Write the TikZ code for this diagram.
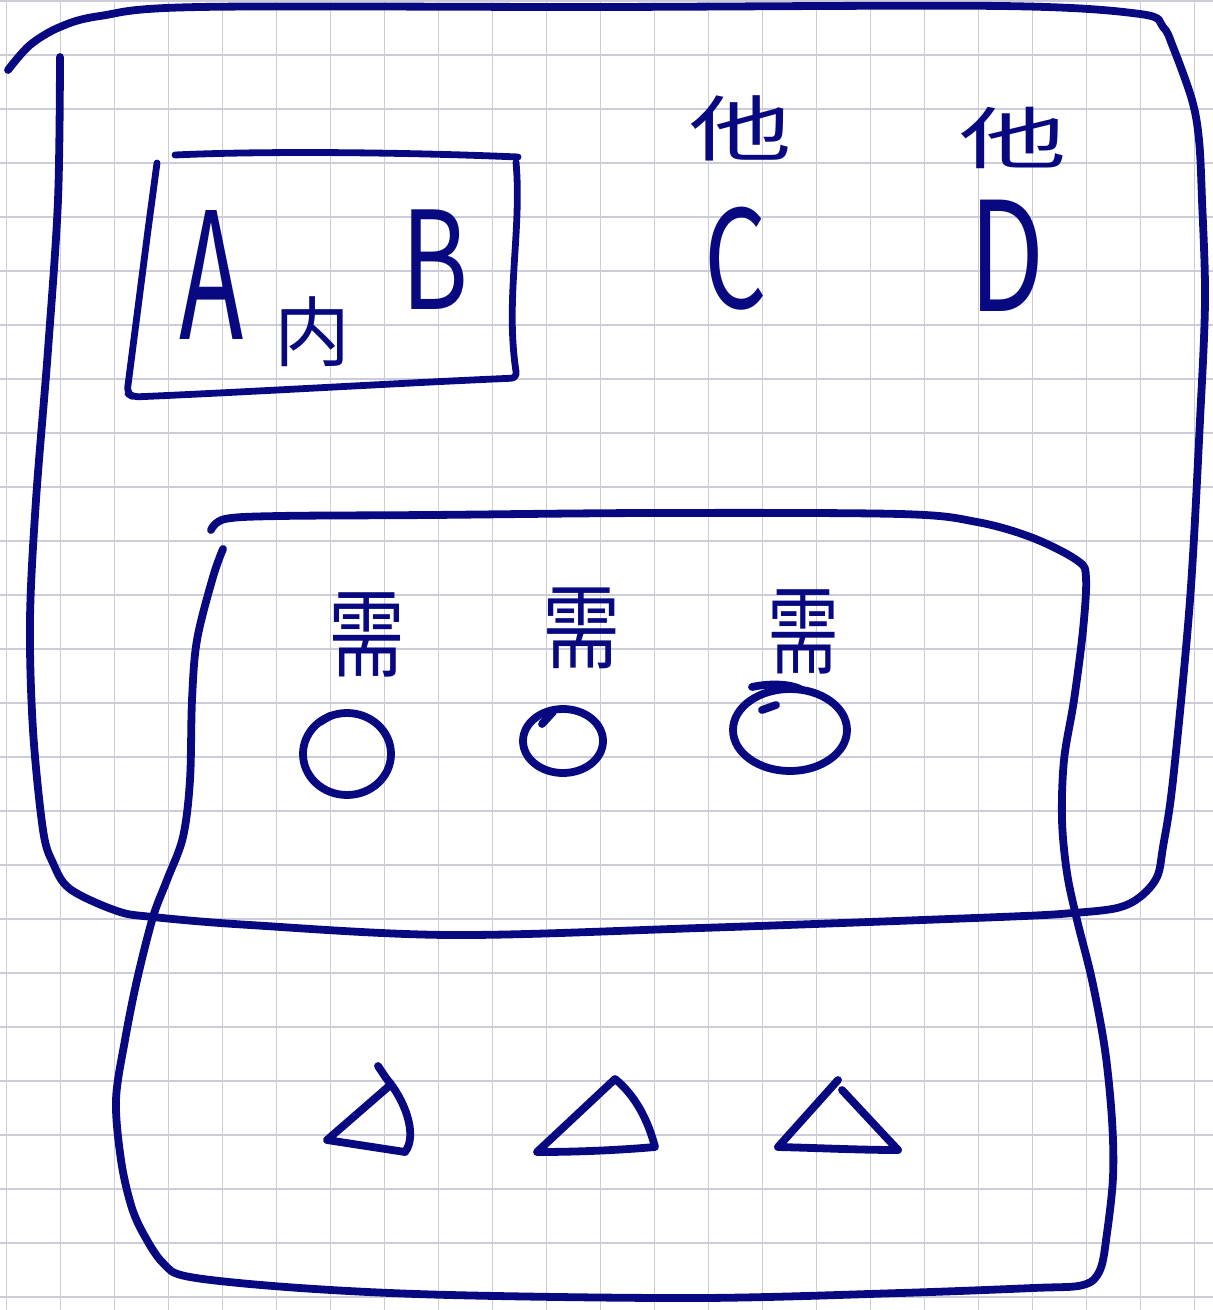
\documentclass[tikz,border=0pt]{standalone}
\usepackage{fontspec}
\newfontfamily\cjk{Noto Sans CJK SC}
\definecolor{ink}{RGB}{8,8,128}
\definecolor{gridc}{RGB}{205,205,218}
\begin{document}
\begin{tikzpicture}[x=0.5pt,y=-0.5pt,
  pen/.style={draw=ink, line width=3.9pt, line cap=round, line join=round},
  fine/.style={draw=ink, line width=3.4pt, line cap=round, line join=round},
  gridline/.style={draw=gridc, line width=0.8pt},
  lbl/.style={text=ink, inner sep=0pt, font=\cjk}]
\fill[white] (0,0) rectangle (1213,1310);
\useasboundingbox (0,0) rectangle (1213,1310);
% grid paper
\foreach \i in {0,...,22} \draw[gridline] ({6.5+54*\i},0) -- ({6.5+54*\i},1310);
\foreach \j in {0,...,24} \draw[gridline] (0,{1+54*\j}) -- (1213,{1+54*\j});

% outer region
\draw[pen] plot[smooth, tension=0.55] coordinates {
 (60,57) (58,200) (48,350) (36,500) (30,620) (33,730) (43,830) (53,863) (70,889)
 (117,911) (153,917) (250,925) (450,935) (700,928) (1000,917) (1073,913)
 (1117,908) (1140,897) (1157,877) (1163,847) (1173,780) (1190,600) (1200,420)
 (1205,300) (1202,200) (1199,140) (1192,100) (1173,47) (1163,27) (1140,14)
 (1000,6) (600,7) (200,7) (100,16) (60,27) (30,45) (8,70)};

% inner box (内)
\draw[fine, rounded corners=3pt] (157,163) -- (148,230) -- (127,393) -- (133,397)
  .. controls (250,392) and (400,383) .. (517,378)
  .. controls (505,300) and (522,230) .. (516,162);
\draw[fine] (518,157) .. controls (400,152) and (260,151) .. (175,155);

% lower region
\draw[pen] plot[smooth, tension=0.55] coordinates {
 (223,549) (213,577) (197,640) (192,700) (190,780) (183,837) (167,880) (153,917)
 (137,980) (125,1040) (116,1100) (121,1160) (131,1205) (143,1233) (163,1263)
 (190,1277) (300,1288) (450,1295) (700,1298) (900,1293) (1033,1288) (1083,1285)
 (1100,1270) (1107,1233) (1113,1177) (1112,1120) (1105,1050) (1092,980) (1077,920)
 (1067,873) (1062,820) (1064,760) (1074,700) (1083,630) (1086,578) (1078,561)
 (1033,538) (977,522) (900,514) (650,513) (430,515) (280,516) (225,519) (211,530)};

% labels
\node[lbl, anchor=base, font=\cjk\fontsize{88}{88}\selectfont, xscale=0.6] (A) at (212,340) {A};
\node[lbl, anchor=base, font=\cjk\fontsize{68}{68}\selectfont, xscale=0.75] (B) at (435,310) {B};
\node[lbl, font=\cjk\fontsize{38}{38}\selectfont] (nei) at (312,332) {内};
\node[lbl, anchor=base, font=\cjk\fontsize{68}{68}\selectfont, xscale=0.72] (C) at (736,309) {C};
\node[lbl, anchor=base, font=\cjk\fontsize{76}{76}\selectfont, xscale=0.72] (D) at (1007,312) {D};
\node[lbl, font=\cjk\fontsize{42}{42}\selectfont, xscale=1.22, yscale=0.85] (taC) at (741,128) {他};
\node[lbl, font=\cjk\fontsize{42}{42}\selectfont, xscale=1.28, yscale=0.8] (taD) at (1013,138) {他};
\node[lbl, font=\cjk\fontsize{48}{48}\selectfont, xscale=0.8] (xu1) at (367,635) {需};
\node[lbl, font=\cjk\fontsize{46}{46}\selectfont, xscale=0.85] (xu2) at (582,628) {需};
\node[lbl, font=\cjk\fontsize{48}{48}\selectfont, xscale=0.75] (xu3) at (803,632) {需};

% circles
\draw[pen] (347,754) ellipse [x radius=44, y radius=41];
\draw[pen] (330,716) -- (320,722);
\draw[pen] (563,741) ellipse [x radius=40, y radius=32];
\draw[pen] (553,712) -- (542,724);
\draw[pen] (790,730) ellipse [x radius=57, y radius=41];
\draw[pen] (752,687) .. controls (770,683) and (790,684) .. (800,689);
\draw[pen] (776,705) -- (762,710);

% triangles
\draw[pen] (378,1066) -- (386,1078)
  .. controls (405,1100) and (418,1135) .. (405,1152) -- (327,1140) -- (388,1087);
\draw[pen] (537,1152) -- (615,1079)
  .. controls (635,1095) and (648,1120) .. (655,1147)
  .. controls (620,1150) and (580,1152) .. (537,1152);
\draw[pen] (838,1080) -- (778,1147)
  .. controls (820,1148) and (860,1150) .. (898,1150) -- (842,1090);
\end{tikzpicture}
\end{document}
